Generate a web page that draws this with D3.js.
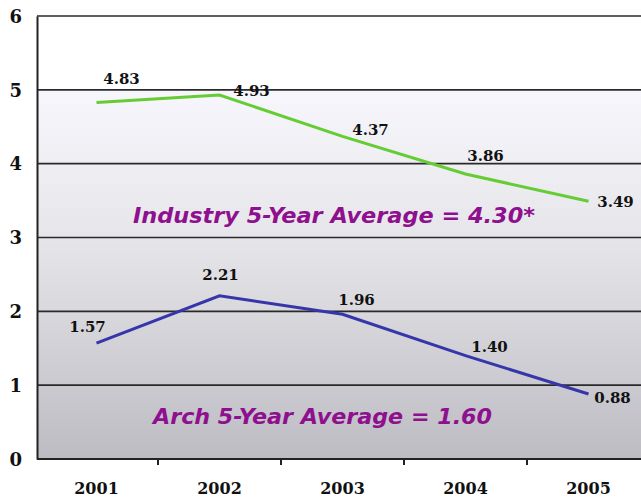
<!DOCTYPE html>
<html>
<head>
<meta charset="utf-8">
<script src="https://cdn.jsdelivr.net/npm/d3@7"></script>
<style>
  body { margin: 0; background: #fff; }
  svg { display: block; }
</style>
</head>
<body>
<svg width="641" height="497"></svg>
<script>
var width = 641;
var height = 497;

// chart data
var years = ["2001", "2002", "2003", "2004", "2005"];
var industry = [4.83, 4.93, 4.37, 3.86, 3.49];
var arch = [1.57, 2.21, 1.96, 1.40, 0.88];
var yTicks = [0, 1, 2, 3, 4, 5, 6];
var industryNote = "Industry 5-Year Average = 4.30*";
var archNote = "Arch 5-Year Average = 1.60";

// label offsets from each point (dx, dy)
var industryOffsets = [[25, -18], [32, 1], [28, -1], [20, -13], [27, 6]];
var archOffsets = [[-9, -11], [1, -16], [14, -9], [24, -4], [24, 9]];

var svg = d3.select('svg');

var x = d3.scaleBand().domain(years).range([35, 650]);
var y = d3.scaleLinear().domain([0, 6]).range([459, 16]);

// background gradient
var defs = svg.append("defs");
var grad = defs.append("linearGradient")
    .attr("id", "bg")
    .attr("x1", 0).attr("y1", 0).attr("x2", 0).attr("y2", 1);
grad.append("stop").attr("offset", "0%").attr("stop-color", "#ffffff");
grad.append("stop").attr("offset", "16.6%").attr("stop-color", "#ffffff");
grad.append("stop").attr("offset", "17%").attr("stop-color", "#f6f6fc");
grad.append("stop").attr("offset", "50%").attr("stop-color", "#e6e6ea");
grad.append("stop").attr("offset", "83%").attr("stop-color", "#cacad0");
grad.append("stop").attr("offset", "100%").attr("stop-color", "#bcbcc2");

svg.append("rect")
    .attr("x", 37)
    .attr("y", y(6))
    .attr("width", width - 37)
    .attr("height", y(0) - y(6))
    .attr("fill", "url(#bg)");

// gridlines
svg.selectAll(".grid")
    .data(yTicks.slice(1))
    .enter()
    .append("line")
    .attr("class", "grid")
    .attr("x1", 37)
    .attr("x2", width)
    .attr("y1", function(d) { return y(d); })
    .attr("y2", function(d) { return y(d); })
    .attr("stroke", "#2a2a2a")
    .attr("stroke-width", 1.6);

// y axis
var yAxis = d3.axisLeft(y).tickValues(yTicks).tickFormat(d3.format("d")).tickSize(0).tickPadding(15);
svg.append("g")
    .attr("transform", "translate(37,0)")
    .call(yAxis)
    .call(function(g) {
        g.select(".domain").attr("stroke", "#222").attr("stroke-width", 2);
        g.selectAll("text")
            .attr("font-family", "DejaVu Serif, serif")
            .attr("font-weight", "bold")
            .attr("font-size", "18px")
            .attr("fill", "#111")
            .attr("dy", "0.35em");
    });

// x axis
var xAxis = d3.axisBottom(x).tickSize(0).tickPadding(24);
var xg = svg.append("g")
    .attr("transform", "translate(0," + y(0) + ")")
    .call(xAxis);
xg.select(".domain").remove();
xg.append("line")
    .attr("x1", 37).attr("x2", width)
    .attr("y1", 0).attr("y2", 0)
    .attr("stroke", "#222").attr("stroke-width", 2);
xg.selectAll(".bound")
    .data(years.slice(1))
    .enter()
    .append("line")
    .attr("x1", function(d) { return x(d); })
    .attr("x2", function(d) { return x(d); })
    .attr("y1", 0).attr("y2", 6)
    .attr("stroke", "#222").attr("stroke-width", 2);
xg.selectAll("text")
    .attr("font-family", "DejaVu Serif, serif")
    .attr("font-weight", "bold")
    .attr("font-size", "16px")
    .attr("fill", "#111");

// lines
var cx = function(i) { return x(years[i]) + x.bandwidth() / 2; };
var line = d3.line()
    .x(function(d, i) { return cx(i); })
    .y(function(d) { return y(d); });

function drawSeries(values, offsets, color) {
    svg.append("path")
        .datum(values)
        .attr("d", line)
        .attr("fill", "none")
        .attr("stroke", color)
        .attr("stroke-width", 3);
    svg.selectAll(null)
        .data(values)
        .enter()
        .append("text")
        .attr("x", function(d, i) { return cx(i) + offsets[i][0]; })
        .attr("y", function(d, i) { return y(d) + offsets[i][1]; })
        .attr("text-anchor", "middle")
        .attr("font-family", "DejaVu Serif, serif")
        .attr("font-weight", "bold")
        .attr("font-size", "15px")
        .attr("fill", "#111")
        .text(function(d) { return d.toFixed(2); });
}

drawSeries(industry, industryOffsets, "#66cc33");
drawSeries(arch, archOffsets, "#3636aa");

// average notes
svg.append("text")
    .attr("x", 133)
    .attr("y", 223)
    .attr("textLength", 402)
    .attr("lengthAdjust", "spacingAndGlyphs")
    .attr("font-family", "DejaVu Sans, sans-serif")
    .attr("font-style", "italic")
    .attr("font-weight", "bold")
    .attr("font-size", "21px")
    .attr("fill", "#8e108e")
    .text(industryNote);

svg.append("text")
    .attr("x", 153)
    .attr("y", 424)
    .attr("textLength", 339)
    .attr("lengthAdjust", "spacingAndGlyphs")
    .attr("font-family", "DejaVu Sans, sans-serif")
    .attr("font-style", "italic")
    .attr("font-weight", "bold")
    .attr("font-size", "21px")
    .attr("fill", "#8e108e")
    .text(archNote);
</script>
</body>
</html>
